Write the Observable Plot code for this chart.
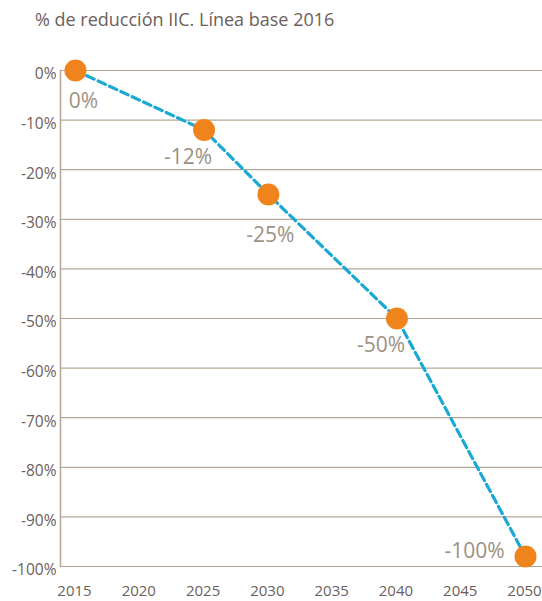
<!DOCTYPE html>
<html>
<head>
<meta charset="utf-8">
<script src="https://cdn.jsdelivr.net/npm/d3@7"></script>
<script src="https://cdn.jsdelivr.net/npm/@observablehq/plot@0.6"></script>
<style>
  html, body { margin: 0; padding: 0; background: #fff; overflow: hidden; }
  #title { position: absolute; left: 35px; top: 7px; font-family: "Open Sans", sans-serif; font-size: 18px; color: #6b605b; }
  #chart { position: absolute; left: 0; top: 42px; }
</style>
</head>
<body>
<div id="title">% de reducción IIC. Línea base 2016</div>
<div id="chart"></div>
<script>
const years = [2015, 2025, 2030, 2040, 2050];
const reduction = [0, -12, -25, -50, -98];
const pointLabels = ["0%", "-12%", "-25%", "-50%", "-100%"];
const yTicks = [0, -10, -20, -30, -40, -50, -60, -70, -80, -90, -100];
const xTicks = [2015, 2020, 2025, 2030, 2035, 2040, 2045, 2050];

const data = years.map((y, i) => ({year: y, value: reduction[i], label: pointLabels[i]}));
// label offsets (style only)
const labelOffsets = [[8, 31], [-16, 27], [2, 41], [-16, 27], [-51, -5]];

const labelMarks = data.map((d, i) => Plot.text([d], {
  x: "year", y: "value", text: "label",
  dx: labelOffsets[i][0], dy: labelOffsets[i][1],
  fill: "#9c9182", fontSize: 21, textAnchor: "middle"
}));

const chart = Plot.plot({
  width: 542,
  height: 558,
  marginLeft: 60,
  marginRight: 0,
  marginTop: 28,
  marginBottom: 34,
  style: {fontFamily: "'Open Sans', sans-serif", color: "#6b605b", background: "transparent", overflow: "visible"},
  x: {domain: [2013.833, 2051.32]},
  y: {domain: [-100, 0]},
  marks: [
    Plot.ruleY(yTicks, {stroke: "#b3a696", strokeWidth: 1.2}),
    Plot.frame({anchor: "left", stroke: "#b3a696", strokeWidth: 1.5}),
    Plot.axisY({ticks: yTicks, tickSize: 0, tickPadding: 4, tickFormat: d => d + "%", fontSize: 15.5, dy: 4, label: null}),
    Plot.axisX({ticks: xTicks, tickSize: 0, tickPadding: 19, tickFormat: d => String(d), fontSize: 15, dx: -1, label: null}),
    Plot.line(data, {x: "year", y: "value", stroke: "#1aa8d4", strokeWidth: 3.2, strokeDasharray: "8,4.5"}),
    Plot.dot(data, {x: "year", y: "value", r: 11, fill: "#f0841c", stroke: "none"}),
    ...labelMarks
  ]
});
document.getElementById("chart").appendChild(chart);
</script>
</body>
</html>
